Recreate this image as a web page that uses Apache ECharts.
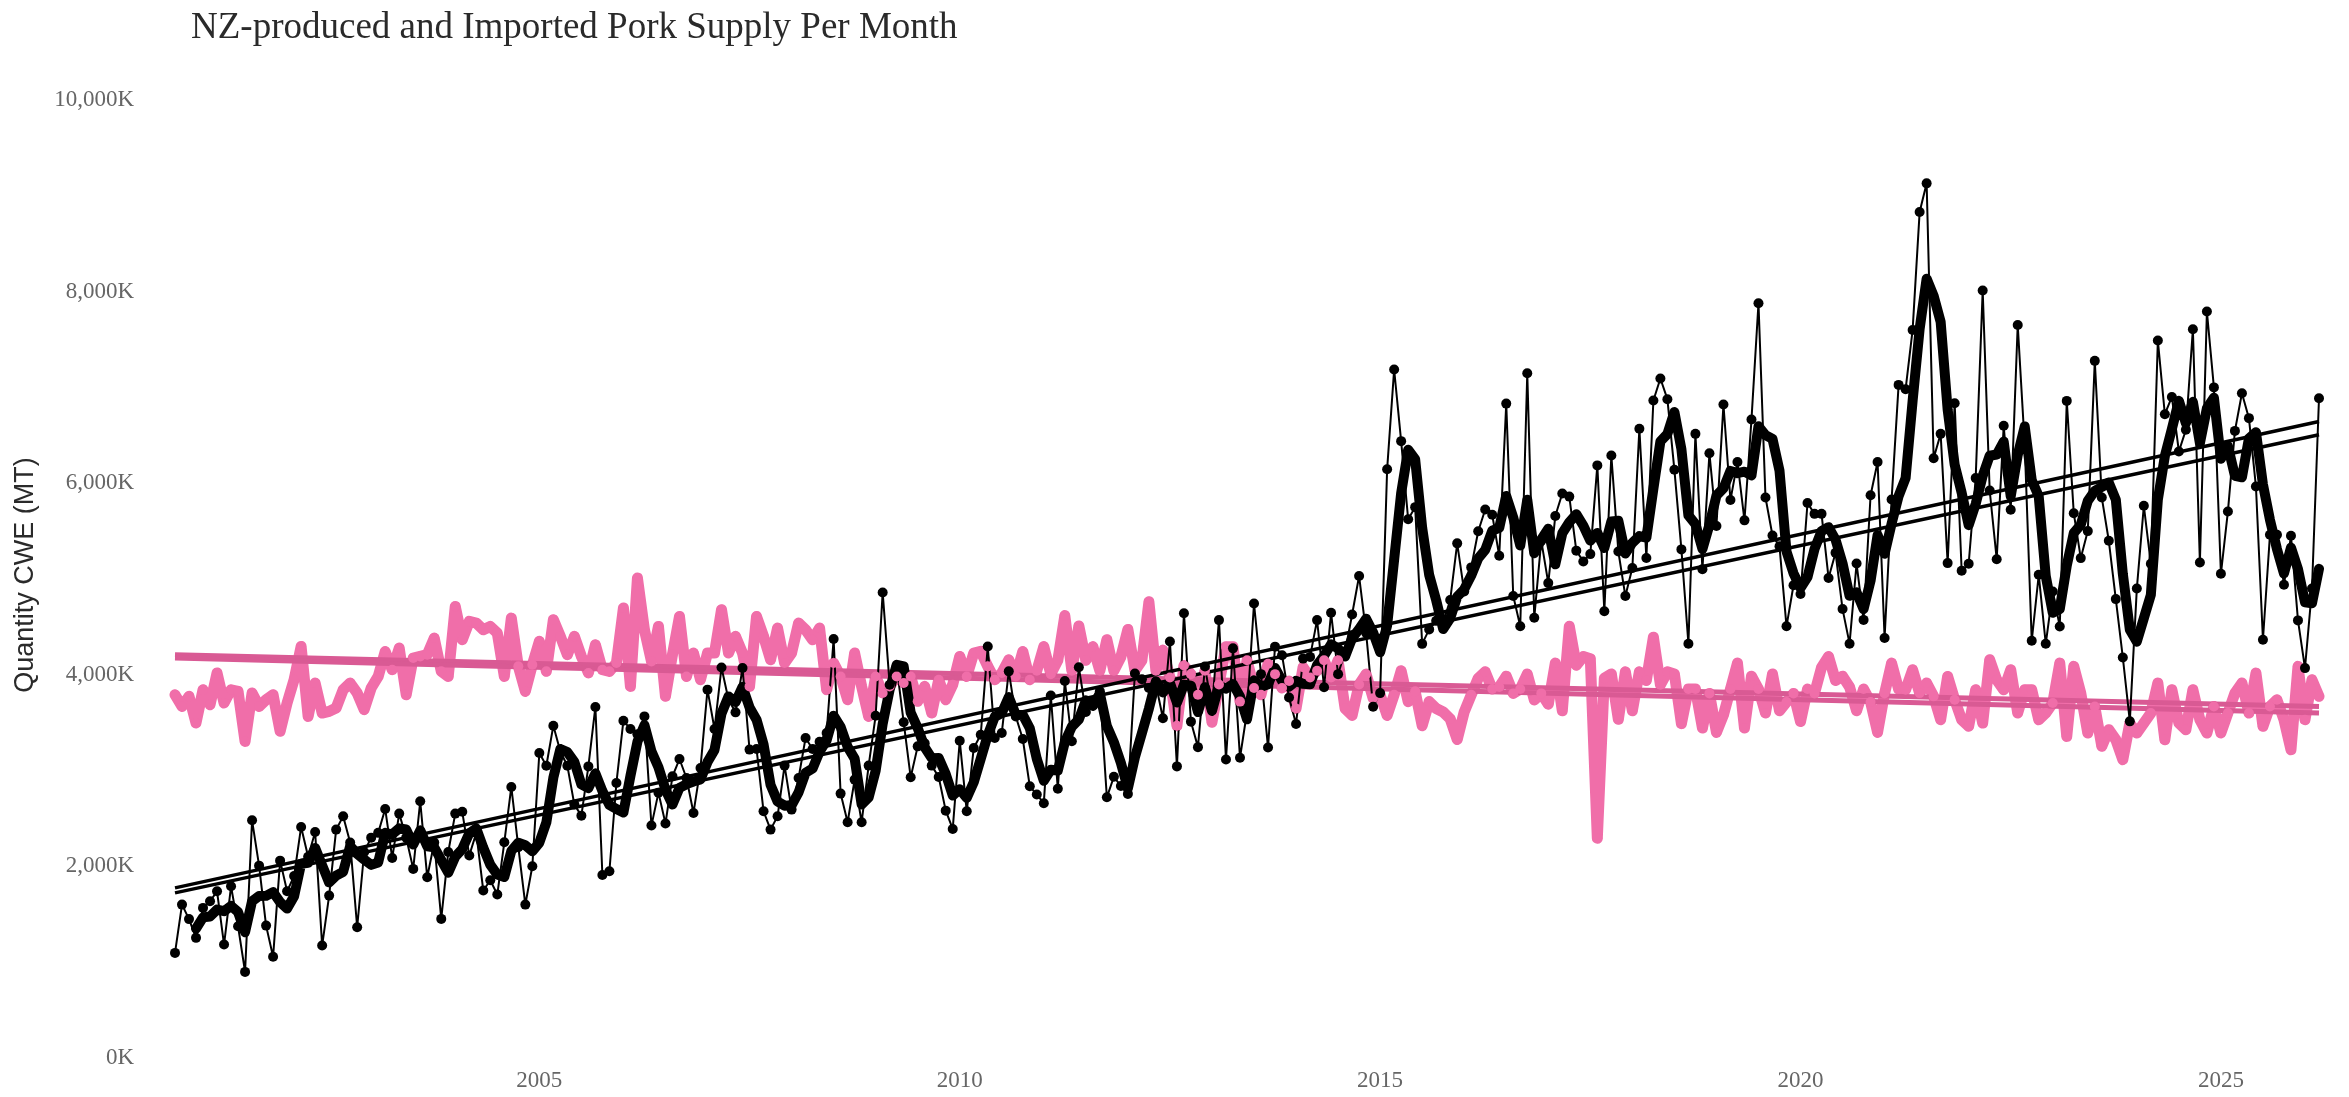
<!DOCTYPE html>
<html>
<head>
<meta charset="utf-8">
<title>NZ-produced and Imported Pork Supply Per Month</title>
<script src="https://cdn.jsdelivr.net/npm/echarts@6/dist/echarts.min.js"></script>
<style>
  html, body { margin: 0; padding: 0; background: #fff; }
  #chart { width: 2349px; height: 1097px; }
</style>
</head>
<body>
<div id="chart"></div>
<script>
// monthly supply, thousand tonnes CWE, first month 2000-09
const startYear = 2000
const startMonth = 9

// imported pork (black dots)
const imported = [
  1097, 1601, 1450, 1254, 1567, 1636, 1740, 1184, 1792, 1375,
  899, 2481, 2008, 1382, 1056, 2060, 1740, 1900, 2412, 2100,
  2360, 1174, 1695, 2384, 2523, 2250, 1365, 2150, 2300, 2350,
  2600, 2088, 2551, 2300, 1974, 2680, 1886, 2250, 1452, 2150,
  2551, 2570, 2113, 2350, 1748, 1855, 1706, 2252, 2829, 2200,
  1601, 2001, 3184, 3051, 3469, 3200, 3050, 2645, 2530, 3044,
  3664, 1910, 1949, 2871, 3521, 3434, 3380, 3566, 2426, 2770,
  2447, 2940, 3121, 2923, 2558, 3028, 3845, 3434, 4077, 3740,
  3608, 4071, 3219, 3226, 2575, 2384, 2523, 3052, 2593, 2923,
  3341, 3226, 3300, 3393, 4373, 2760, 2461, 2906, 2461, 3052,
  3573, 4860, 3897, 4088, 3504, 2930, 3253, 3286, 3052, 2934,
  2582, 2391, 3312, 2575, 3235, 3375, 4296, 3341, 3393, 4036,
  3566, 3330, 2836, 2750, 2660, 3784, 2810, 3935, 3306, 4079,
  3612, 3702, 3827, 2721, 2936, 2839, 2757, 4014, 3953, 3863,
  3899, 3547, 4348, 3044, 4643, 3511, 3245, 4086, 3648, 4571,
  3116, 4276, 3134, 3612, 4744, 4007, 3242, 4294, 4205, 3763,
  3486, 4169, 4187, 4571, 3870, 4647, 4007, 4241, 4629, 5031,
  4438, 3666, 3809, 6145, 7187, 6439, 5624, 5750, 4323, 4474,
  4564, 4546, 4780, 5372, 4869, 5121, 5499, 5725, 5671, 5242,
  6831, 4822, 4506, 7147, 4596, 5400, 4957, 5657, 5892, 5860,
  5296, 5183, 5260, 6186, 4664, 6289, 5287, 4822, 5115, 6569,
  5219, 6863, 7093, 6877, 6140, 5309, 4325, 6515, 5102, 6312,
  5553, 6822, 5824, 6222, 5612, 6664, 7879, 5851, 5454, 5341,
  4506, 4935, 4844, 5793, 5680, 5680, 5011, 5273, 4686, 4325,
  5161, 4573, 5874, 6222, 4384, 5829, 7026, 6981, 7600, 8830,
  9130, 6261, 6515, 5166, 6835, 5086, 5159, 6053, 8011, 5924,
  5207, 6599, 5722, 7652, 6400, 4355, 5044, 4324, 4870, 4505,
  6859, 5687, 5218, 5500, 7277, 5850, 5399, 4790, 4181, 3514,
  4900, 5764, 5159, 7489, 6720, 6900, 6331, 6557, 7607, 5173,
  7792, 7000, 5054, 5705, 6546, 6939, 6679, 5965, 4366, 5461,
  5461, 4940, 5451, 4568, 4070, 4900, 6887
]

// NZ-produced pork (pink)
const nzProduced = [
  3792, 3670, 3775, 3497, 3844, 3687, 4019, 3706, 3844, 3827,
  3305, 3810, 3670, 3740, 3792, 3410, 3706, 3949, 4296, 3566,
  3914, 3601, 3618, 3653, 3844, 3914, 3810, 3636, 3862, 3983,
  4244, 4053, 4279, 3792, 4175, 4192, 4210, 4384, 4036, 3983,
  4714, 4366, 4557, 4540, 4470, 4505, 4436, 3983, 4592, 4088,
  3827, 4105, 4349, 4036, 4575, 4401, 4210, 4401, 4192, 4019,
  4314, 4053, 4036, 4123, 4697, 3879, 5010, 4470, 4140, 4505,
  3775, 4210, 4609, 3983, 4227, 3949, 4227, 4227, 4679, 4227,
  4401, 4227, 3879, 4609, 4401, 4157, 4488, 4123, 4227, 4540,
  4470, 4366, 4488, 3845, 4123, 3983, 3740, 4227, 3879, 3566,
  3983, 3810, 3879, 3983, 3914, 3983, 3723, 3879, 3601, 3949,
  3740, 3897, 4192, 3983, 4227, 4244, 4088, 3949, 4019, 4157,
  3983, 4244, 3949, 4043, 4294, 4007, 4151, 4618, 4043, 4510,
  4151, 4294, 4043, 4366, 4043, 4187, 4474, 4043, 4151, 4762,
  4043, 4258, 3971, 3468, 4097, 4007, 3791, 4043, 3504, 3899,
  4294, 4294, 3720, 4151, 3863, 3791, 4115, 4007, 3863, 3935,
  3648, 4079, 3971, 4043, 4151, 3971, 4151, 3648, 3576, 3899,
  4007, 3755, 3791, 3576, 3791, 4043, 3720, 3827, 3468, 3720,
  3648, 3612, 3540, 3324, 3612, 3791, 3964, 4031, 3851, 3873,
  3986, 3806, 3851, 4009, 3738, 3806, 3693, 4122, 3625, 4506,
  4099, 4190, 4167, 2293, 3964, 4009, 3535, 4031, 3625, 4031,
  3941, 4393, 3896, 4031, 4009, 3490, 3851, 3851, 3444, 3806,
  3399, 3580, 3851, 4122, 3444, 3986, 3851, 3602, 4009, 3625,
  3716, 3806, 3512, 3851, 3806, 4077, 4190, 3941, 3986, 3873,
  3625, 3851, 3716, 3399, 3806, 4122, 3851, 3844, 4053, 3809,
  3914, 3775, 3531, 3983, 3740, 3531, 3462, 3844, 3496, 4157,
  3948, 3844, 4053, 3601, 3844, 3844, 3531, 3601, 3705, 4122,
  3357, 4088, 3809, 3392, 3670, 3253, 3427, 3322, 3114, 3496,
  3392, 3496, 3601, 3914, 3322, 3844, 3496, 3427, 3844, 3531,
  3392, 3670, 3392, 3601, 3809, 3914, 3601, 4018, 3462, 3670,
  3740, 3531, 3218, 4088, 3531, 3948, 3775
]

// trend lines, [first month, last month]
const importTrendA = [1776, 6644]
const importTrendB = [1724, 6505]
const nzTrendA = [4210, 3670]
const nzTrendB = [4175, 3601]

const yearLabels = ['2005', '2010', '2015', '2020', '2025']

// month categories
const months = imported.map((v, i) => {
  const m = startMonth - 1 + i
  const y = startYear + Math.floor(m / 12)
  return y + '-' + String(m % 12 + 1).padStart(2, '0')
})

// 4-month trailing rolling mean of the imports (empty until 4 months exist)
const rollMean = (arr, k) => arr.map((v, i) => {
  if (i < k - 1) return null
  const win = arr.slice(i - k + 1, i + 1)
  return Math.round(win.reduce((a, b) => a + b, 0) / k)
})
const importedAvg = rollMean(imported, 4)

const first = months[0]
const last = months[months.length - 1]
const trend = (pair) => [[first, pair[0]], [last, pair[1]]]

const PINK = '#f06ea9'
const PINK_DARK = '#d95a94'

const myChart = echarts.init(document.querySelector('#chart'))
const option = {
  animation: false,
  backgroundColor: '#ffffff',
  title: {
    text: 'NZ-produced and Imported Pork Supply Per Month',
    left: 186,
    top: 5,
    textStyle: {
      fontFamily: 'Liberation Serif',
      fontSize: 37,
      fontWeight: 'normal',
      color: '#2a2a2a'
    }
  },
  graphic: [
    {
      type: 'text',
      x: 26,
      y: 575,
      rotation: Math.PI / 2,
      style: {
        text: 'Quantity CWE (MT)',
        fontFamily: 'Liberation Sans',
        fontSize: 27,
        fill: '#2a2a2a',
        textAlign: 'center',
        textVerticalAlign: 'middle'
      }
    }
  ],
  grid: {
    left: 175,
    right: 30,
    top: 100,
    bottom: 39
  },
  xAxis: {
    type: 'category',
    data: months,
    boundaryGap: false,
    axisLine: { show: false },
    axisTick: { show: false },
    splitLine: { show: false },
    axisLabel: {
      interval: (idx, value) => value.slice(5) === '01' && yearLabels.includes(value.slice(0, 4)),
      formatter: (value) => value.slice(0, 4),
      fontFamily: 'Liberation Serif',
      fontSize: 23,
      color: '#666666',
      margin: 11
    }
  },
  yAxis: {
    type: 'value',
    min: 0,
    max: 10000,
    interval: 2000,
    axisLine: { show: false },
    axisTick: { show: false },
    splitLine: { show: false },
    axisLabel: {
      formatter: (v) => v.toLocaleString('en-US') + 'K',
      fontFamily: 'Liberation Serif',
      fontSize: 23,
      color: '#666666',
      margin: 41
    }
  },
  series: [
    {
      name: 'NZ-produced points',
      type: 'line',
      data: nzProduced,
      showSymbol: true,
      showAllSymbol: true,
      symbol: 'circle',
      symbolSize: 10,
      itemStyle: { color: PINK },
      lineStyle: { color: PINK, width: 2 }
    },
    {
      name: 'NZ-produced',
      type: 'line',
      data: nzProduced,
      showSymbol: false,
      lineStyle: { color: PINK, width: 11, join: 'round', cap: 'round' }
    },
    {
      name: 'NZ trend A',
      type: 'line',
      data: trend(nzTrendA),
      showSymbol: false,
      lineStyle: { color: PINK_DARK, width: 5 }
    },
    {
      name: 'NZ trend B',
      type: 'line',
      data: trend(nzTrendB),
      showSymbol: false,
      lineStyle: { color: PINK_DARK, width: 5 }
    },
    {
      name: 'Imported',
      type: 'line',
      data: imported,
      showSymbol: true,
      showAllSymbol: true,
      symbol: 'circle',
      symbolSize: 10,
      itemStyle: { color: '#000000' },
      lineStyle: { color: '#000000', width: 2 }
    },
    {
      name: 'Imported 4-month mean',
      type: 'line',
      data: importedAvg,
      showSymbol: false,
      connectNulls: false,
      lineStyle: { color: '#000000', width: 10, join: 'round', cap: 'round' }
    },
    {
      name: 'Import trend A',
      type: 'line',
      data: trend(importTrendA),
      showSymbol: false,
      lineStyle: { color: '#000000', width: 3.5 }
    },
    {
      name: 'Import trend B',
      type: 'line',
      data: trend(importTrendB),
      showSymbol: false,
      lineStyle: { color: '#000000', width: 3.5 }
    }
  ]
}
myChart.setOption(option)
</script>
</body>
</html>
